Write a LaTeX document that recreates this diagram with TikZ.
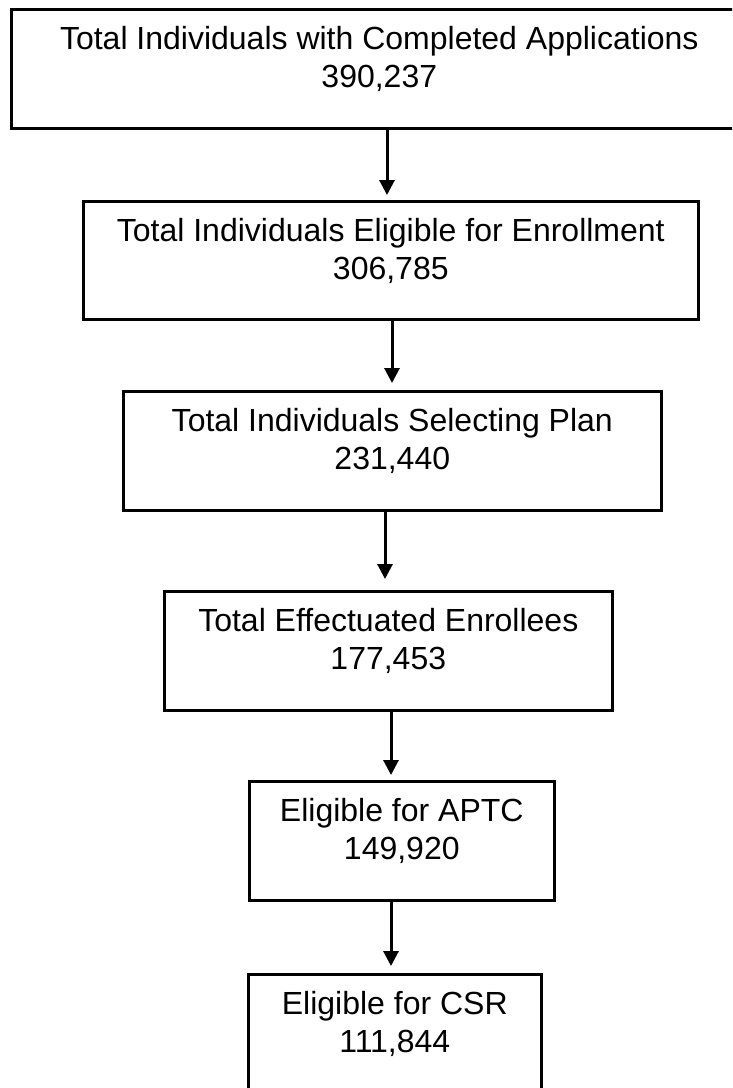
\documentclass[tikz,border=0pt]{standalone}
\usepackage{fontspec}
\setmainfont{Liberation Sans}
\usetikzlibrary{arrows.meta}
\begin{document}
\begin{tikzpicture}[x=1pt,y=-1pt,
  boxnode/.style={draw=black, line width=2.6pt, inner sep=0pt, anchor=north west, minimum height=119pt},
  txtnode/.style={inner sep=0pt, anchor=north, align=center, font=\fontsize{32}{37.5}\selectfont},
  arr/.style={line width=3pt, -{Triangle[length=15pt,width=15pt]}}]
\clip (0,0) rectangle (732,1088);
\fill[white] (0,0) rectangle (732,1088);
% boxes
\node[boxnode, minimum width=736pt] (b1) at (10,8) {};
\node[boxnode, minimum width=615pt, minimum height=118pt] (b2) at (82,200) {};
\node[boxnode, minimum width=538pt] (b3) at (122,390) {};
\node[boxnode, minimum width=448pt] (b4) at (163,590) {};
\node[boxnode, minimum width=305pt] (b5) at (248,780) {};
\node[boxnode, minimum width=293pt, minimum height=135pt] (b6) at (247,973) {};
% texts
\node[txtnode] (t1) at ([yshift=-18.5pt]b1.north) {Total Individuals with Completed Applications\\390,237};
\node[txtnode] (t2) at ([yshift=-18.5pt]b2.north) {Total Individuals Eligible for Enrollment\\306,785};
\node[txtnode] (t3) at ([yshift=-18.5pt]b3.north) {Total Individuals Selecting Plan\\231,440};
\node[txtnode] (t4) at ([yshift=-18.5pt]b4.north) {Total Effectuated Enrollees\\177,453};
\node[txtnode] (t5) at ([yshift=-18.5pt]b5.north) {Eligible for APTC\\149,920};
\node[txtnode] (t6) at ([yshift=-18.5pt]b6.north) {Eligible for CSR\\111,844};
% arrow tips
\coordinate (e1) at (387,195);
\coordinate (e2) at (392,383);
\coordinate (e3) at (385,579);
\coordinate (e4) at (391,775);
\coordinate (e5) at (391,966);
\draw[arr] (b1.south -| e1) -- (e1);
\draw[arr] (b2.south -| e2) -- (e2);
\draw[arr] (b3.south -| e3) -- (e3);
\draw[arr] (b4.south -| e4) -- (e4);
\draw[arr] (b5.south -| e5) -- (e5);
\end{tikzpicture}
\end{document}
